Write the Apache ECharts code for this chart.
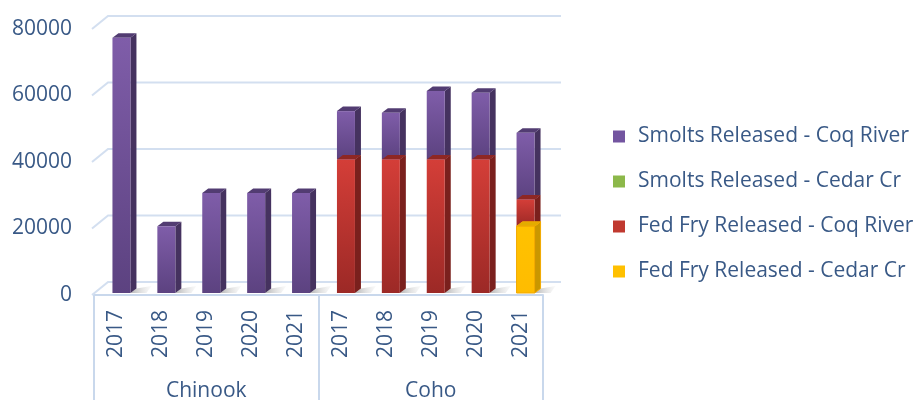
<!DOCTYPE html>
<html><head><meta charset="utf-8">
<script src="https://cdn.jsdelivr.net/npm/echarts@6/dist/echarts.min.js"></script>
<style>html,body{margin:0;padding:0;background:#fff}#c{width:920px;height:402px}</style>
</head><body><div id="c"></div>
<script>
var years = ['2017','2018','2019','2020','2021','2017','2018','2019','2020','2021'];
var groups = ['Chinook','Coho'];
var yTicks = [0, 20000, 40000, 60000, 80000];
var seriesNames = ['Smolts Released - Coq River','Smolts Released - Cedar Cr','Fed Fry Released - Coq River','Fed Fry Released - Cedar Cr'];
var smoltsCoq   = [76500, 20000, 30000, 30000, 30000, 14500, 14000, 20500, 20000, 20000];
var smoltsCedar = [0, 0, 0, 0, 0, 0, 0, 0, 0, 0];
var fryCoq      = [0, 0, 0, 0, 0, 40000, 40000, 40000, 40000, 8000];
var fryCedar    = [0, 0, 0, 0, 0, 0, 0, 0, 0, 20000];

var TXT = '#395986';
var FONT = 'Open Sans';
var GRIDC = '#D3DFF0';

var stackOrder = [
  {name: seriesNames[3], vals: fryCedar, front: ['#FFC200','#FFBC00'], side: '#C99700', top: '#E3AC00', stroke: '#F2A900', legend: '#FFC000'},
  {name: seriesNames[2], vals: fryCoq, front: ['#D43E38','#9C2926'], side: '#7A201D', top: '#8E2724', legend: '#C0392F'},
  {name: seriesNames[1], vals: smoltsCedar, front: ['#9BC655','#76A03A'], side: '#5C7D2C', top: '#6E9335', legend: '#8CB84A'},
  {name: seriesNames[0], vals: smoltsCoq, front: ['#7F5DA9','#5C4280'], side: '#45325F', top: '#523C72', legend: '#7355A0'}
];
var bases = years.map(function(){return 0;});
var barSeries = stackOrder.map(function(s, k){
  var data = s.vals.map(function(v, i){
    var b = bases[i]; bases[i] += v;
    return [i, b, b + v];
  });
  return {
    type: 'custom', name: s.name, xAxisIndex: 2, yAxisIndex: 1, z: 5,
    itemStyle: {color: s.legend},
    data: data,
    renderItem: function(params, api){
      var b = api.value(1), t = api.value(2);
      if (t <= b) return {type: 'group', children: []};
      var p0 = api.coord([api.value(0), b]), p1 = api.coord([api.value(0), t]);
      var cx = p0[0], w = 18, x0 = cx - 9, x1 = cx + 9, yB = p0[1], yT = p1[1], dx = 6, dy = 4.5;
      var grad = new echarts.graphic.LinearGradient(0,0,0,1,[{offset:0,color:s.front[0]},{offset:1,color:s.front[1]}]);
      return {type: 'group', children: [
        {type: 'polygon', shape: {points: [[x1,yB],[x1,yT],[x1+dx,yT-dy],[x1+dx,yB-dy]]}, style: {fill: s.side, stroke: s.stroke || null, lineWidth: s.stroke ? 1 : 0}},
        {type: 'polygon', shape: {points: [[x0,yT],[x1,yT],[x1+dx,yT-dy],[x0+dx,yT-dy]]}, style: {fill: s.top, stroke: s.stroke || null, lineWidth: s.stroke ? 1 : 0}},
        {type: 'rect', shape: {x: x0, y: yT, width: w, height: yB - yT}, style: {fill: grad, stroke: s.stroke || null, lineWidth: s.stroke ? 1 : 0}}
      ]};
    }
  };
});

var totals = bases.slice();
var shadowSeries = {
  type: 'custom', xAxisIndex: 2, yAxisIndex: 1, z: 3, silent: true,
  data: totals.map(function(v, i){return [i, v];}),
  renderItem: function(params, api){
    var p = api.coord([api.value(0), 0]);
    var cx = p[0], y = p[1];
    return {type: 'polygon', shape: {points: [[cx+9,y],[cx+15,y-4.5],[cx+30,y-7],[cx+25,y]]},
      style: {fill: new echarts.graphic.LinearGradient(0,0,1,0,[{offset:0,color:'rgba(120,120,120,0.55)'},{offset:1,color:'rgba(200,200,200,0.1)'}])}};
  }
};

var gridSeries = {
  type: 'custom', xAxisIndex: 0, yAxisIndex: 0, z: 1, silent: true,
  data: yTicks.map(function(v){return [0, v];}),
  renderItem: function(params, api){
    var cs = params.coordSys;
    var p = api.coord([0, api.value(1)]);
    var y = p[1];
    return {type: 'polyline', shape: {points: [[cs.x-2, y],[cs.x+14, y-13],[cs.x+cs.width+18, y-13]]},
      style: {stroke: GRIDC, lineWidth: 2, fill: null}};
  }
};

var chart = echarts.init(document.getElementById('c'), null, {renderer: 'canvas'});
chart.setOption({
  backgroundColor: '#fff',
  animation: false,
  grid: [
    {left: 94, width: 449, top: 29, bottom: 105},
    {left: 99, width: 449, top: 26, bottom: 109}
  ],
  legend: {
    orient: 'vertical', left: 608, top: 121, padding: 5, itemWidth: 12, itemHeight: 12, itemGap: 24, icon: 'rect',
    data: seriesNames,
    textStyle: {color: TXT, fontFamily: FONT, fontSize: 21, lineHeight: 21, padding: [0,0,0,8]}
  },
  xAxis: [
    {type: 'category', gridIndex: 0, data: years, boundaryGap: true,
     axisLine: {show: false}, axisTick: {show: false}, splitLine: {show: false},
     axisLabel: {rotate: 90, margin: 15, color: TXT, fontFamily: FONT, fontSize: 21, interval: 0}},
    {type: 'category', gridIndex: 0, data: groups, boundaryGap: true, position: 'bottom', offset: 0,
     axisLine: {show: true, lineStyle: {color: '#C9D8EC', width: 2}},
     axisTick: {show: true, length: 105, lineStyle: {color: '#C9D8EC', width: 2}},
     axisLabel: {margin: 86, color: TXT, fontFamily: FONT, fontSize: 21}},
    {type: 'category', gridIndex: 1, data: years, boundaryGap: true, show: false}
  ],
  yAxis: [
    {type: 'value', gridIndex: 0, min: 0, max: 80000, interval: 20000,
     axisLine: {show: false}, axisTick: {show: false}, splitLine: {show: false},
     axisLabel: {margin: 22, color: TXT, fontFamily: FONT, fontSize: 21, padding: [6,0,0,0], formatter: function(v){return String(v);}}},
    {type: 'value', gridIndex: 1, min: 0, max: 80000, interval: 20000, show: false, splitLine: {show: false}}
  ],
  series: [gridSeries, shadowSeries].concat(barSeries.slice().reverse())
});
</script></body></html>
